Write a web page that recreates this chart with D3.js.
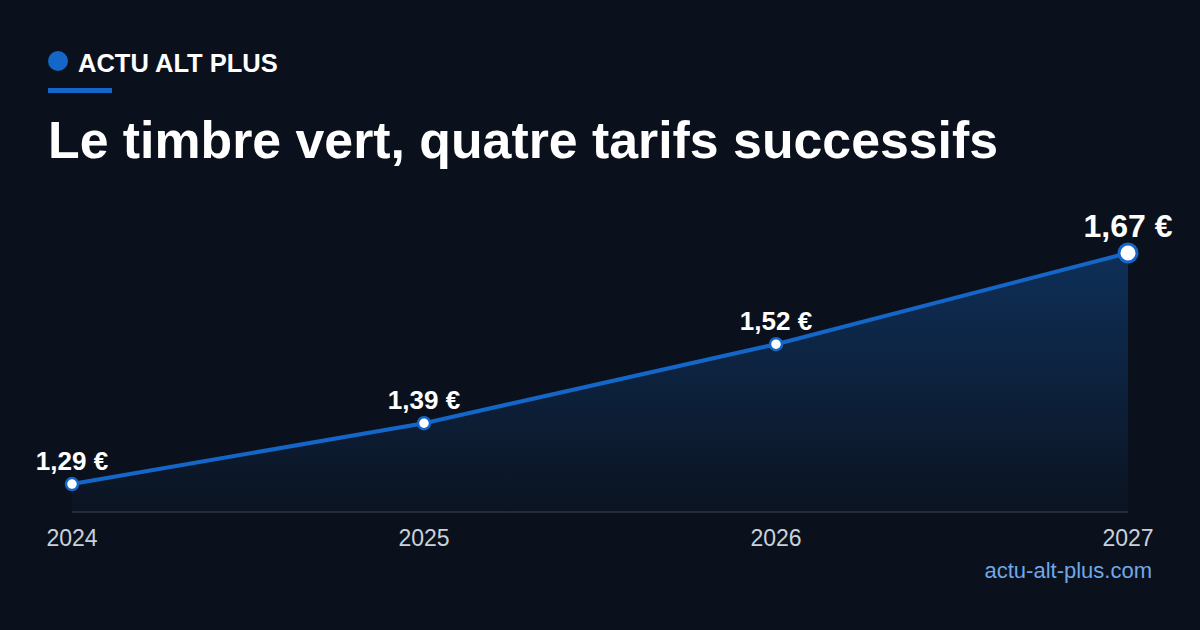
<!DOCTYPE html>
<html><head><meta charset="utf-8">
<script src="https://cdn.jsdelivr.net/npm/d3@7"></script>
<style>body{margin:0;background:#0b111c;}svg{display:block;font-family:"Liberation Sans",Arial,sans-serif;}</style>
</head><body>
<svg id="chart" width="1200" height="630"></svg>
<script>
// tarifs du timbre vert
const years = ["2024", "2025", "2026", "2027"]
const prices = [1.29, 1.39, 1.52, 1.67]
const labels = ["1,29 €", "1,39 €", "1,52 €", "1,67 €"]

const svg = d3.select("#chart")
svg.append("rect").attr("width", 1200).attr("height", 630).attr("fill", "#0b111c")

// header
svg.append("circle").attr("cx", 58).attr("cy", 61).attr("r", 10).attr("fill", "#1467c8")
svg.append("text").attr("x", 78).attr("y", 72).attr("fill", "#fff")
  .attr("font-size", 25.5).attr("font-weight", "bold").text("ACTU ALT PLUS")
svg.append("rect").attr("x", 48).attr("y", 88).attr("width", 64).attr("height", 5).attr("fill", "#1467c8")
svg.append("text").attr("x", 48).attr("y", 158).attr("fill", "#fff")
  .attr("font-size", 51.8).attr("font-weight", "bold").text("Le timbre vert, quatre tarifs successifs")

const x = d3.scalePoint().domain(years).range([72, 1128])
const y = d3.scaleLinear().domain([1.244, 1.67]).range([512, 253])

const defs = svg.append("defs")
const grad = defs.append("linearGradient").attr("id", "area").attr("x1", 0).attr("y1", 0).attr("x2", 0).attr("y2", 1)
grad.append("stop").attr("offset", 0).attr("stop-color", "#1467c8").attr("stop-opacity", 0.35)
grad.append("stop").attr("offset", 1).attr("stop-color", "#1467c8").attr("stop-opacity", 0.03)

const data = years.map((d, i) => ({ year: d, value: prices[i], label: labels[i] }))

svg.append("path").datum(data)
  .attr("d", d3.area().x(d => x(d.year)).y0(y(1.244)).y1(d => y(d.value)))
  .attr("fill", "url(#area)")

svg.append("line").attr("x1", 72).attr("x2", 1128).attr("y1", y(1.244)).attr("y2", y(1.244))
  .attr("stroke", "#2c3646").attr("stroke-width", 1.5)

svg.append("path").datum(data)
  .attr("d", d3.line().x(d => x(d.year)).y(d => y(d.value)))
  .attr("fill", "none").attr("stroke", "#1467c8").attr("stroke-width", 4)

const last = data.length - 1
svg.selectAll(".pt").data(data).join("circle")
  .attr("cx", d => x(d.year)).attr("cy", d => y(d.value))
  .attr("r", (d, i) => i === last ? 9 : 6)
  .attr("fill", "#fff").attr("stroke", "#1467c8").attr("stroke-width", (d, i) => i === last ? 3 : 2.5)

svg.selectAll(".lbl").data(data).join("text")
  .attr("x", d => x(d.year)).attr("y", (d, i) => y(d.value) - (i === last ? 16 : 14))
  .attr("text-anchor", "middle")
  .attr("fill", "#fff").attr("font-weight", "bold")
  .attr("font-size", (d, i) => i === last ? 32 : 26)
  .text(d => d.label)

svg.selectAll(".yr").data(years).join("text")
  .attr("x", d => x(d)).attr("y", 546).attr("text-anchor", "middle")
  .attr("fill", "#c9d1dc").attr("font-size", 23).text(d => d)

svg.append("text").attr("x", 1152).attr("y", 578).attr("text-anchor", "end")
  .attr("fill", "#6fa8e8").attr("font-size", 22).text("actu-alt-plus.com")
</script>
</body></html>
